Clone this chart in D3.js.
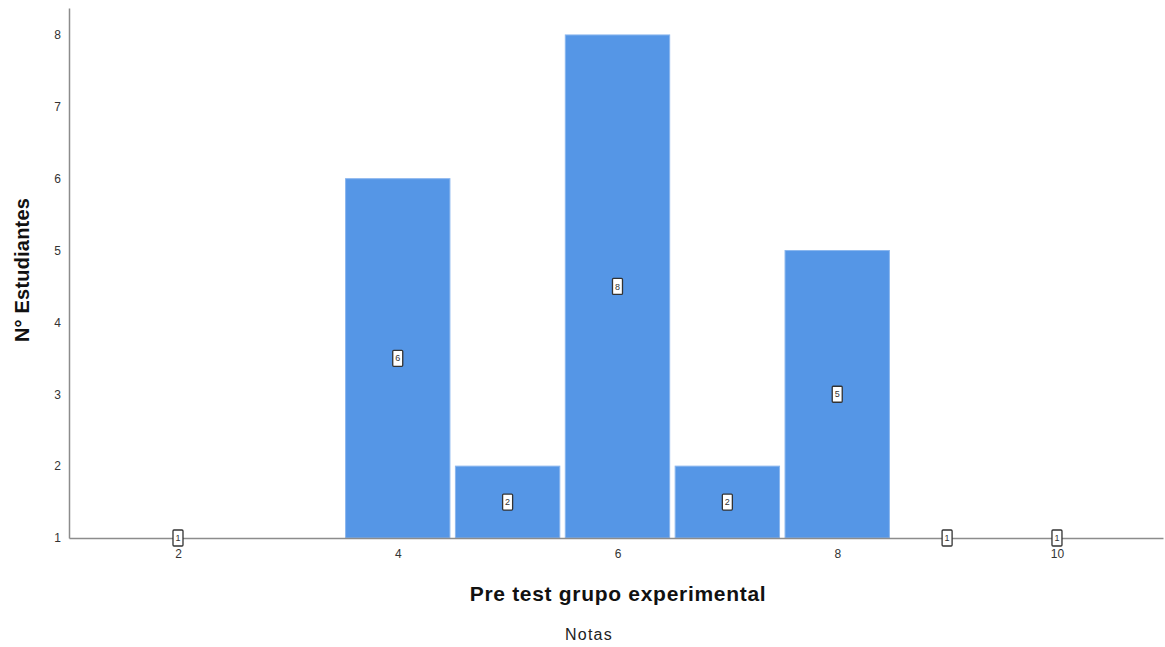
<!DOCTYPE html>
<html><head><meta charset="utf-8">
<script src="https://cdn.jsdelivr.net/npm/d3@7/dist/d3.min.js"></script>
<style>body{margin:0;background:#fff}svg{display:block;font-family:"Liberation Sans",Arial,sans-serif}</style>
</head><body>
<svg id="c" width="1165" height="647"></svg>
<script>
const notas = [2, 4, 5, 6, 7, 8, 9, 10];
const estudiantes = [1, 6, 2, 8, 2, 5, 1, 1];
const xTicks = [2, 4, 6, 8, 10];
const yTicks = [1, 2, 3, 4, 5, 6, 7, 8];

const svg = d3.select("#c");
const x = d3.scaleLinear().domain([1.008, 10.965]).range([69, 1163]);
const y = d3.scaleLinear().domain([1, 8.375]).range([538, 8]);
const half = 0.475;

// bars
svg.append("g").selectAll("rect").data(notas.map((n,i)=>({n, v: estudiantes[i]})))
  .join("rect")
  .attr("x", d => x(d.n - half))
  .attr("width", d => x(d.n + half) - x(d.n - half))
  .attr("y", d => y(d.v))
  .attr("height", d => y(1) - y(d.v))
  .attr("fill", "#5596e6")
  .attr("stroke", "#8ab6ee")
  .attr("stroke-width", 1);

// y axis
const ya = svg.append("g").attr("transform", "translate(69,0)")
  .call(d3.axisLeft(y).tickValues(yTicks).tickSize(0).tickPadding(8).tickFormat(d3.format("d")));
ya.select(".domain").attr("stroke", "#8c8c8c").attr("stroke-width", 1.5);
ya.selectAll("text").attr("font-size", 12).attr("fill", "#333").attr("font-family", "Liberation Sans, Arial, sans-serif");

// x axis
const xa = svg.append("g").attr("transform", "translate(0,538)")
  .call(d3.axisBottom(x).tickValues(xTicks).tickSize(0).tickPadding(11).tickFormat(d3.format("d")));
xa.select(".domain").attr("stroke", "#8c8c8c").attr("stroke-width", 1.5);
xa.selectAll("text").attr("font-size", 12).attr("fill", "#333").attr("font-family", "Liberation Sans, Arial, sans-serif");

// value labels
const lab = svg.append("g").selectAll("g").data(notas.map((n,i)=>({n, v: estudiantes[i]})))
  .join("g")
  .attr("transform", d => `translate(${x(d.n)},${(y(1)+y(d.v))/2})`);
lab.append("rect").attr("x", -5).attr("y", -8).attr("width", 10).attr("height", 16)
  .attr("fill", "#fff").attr("stroke", "#333").attr("stroke-width", 1.3).attr("rx", 1);
lab.append("text").attr("text-anchor", "middle").attr("dy", "0.35em")
  .attr("font-size", 9).attr("fill", "#333").text(d => d.v);

// titles
svg.append("text").attr("x", 618).attr("y", 601).attr("text-anchor", "middle")
  .attr("font-size", 21).attr("letter-spacing", 0.7).attr("font-weight", "bold").attr("fill", "#111").text("Pre test grupo experimental");
svg.append("text").attr("x", 589).attr("y", 640).attr("text-anchor", "middle")
  .attr("font-size", 16).attr("letter-spacing", 1.2).attr("fill", "#222").text("Notas");
svg.append("text").attr("transform", "translate(29,270) rotate(-90)").attr("text-anchor", "middle")
  .attr("font-size", 20).attr("letter-spacing", 0.2).attr("font-weight", "bold").attr("fill", "#111").text("N° Estudiantes");
</script>
</body></html>
